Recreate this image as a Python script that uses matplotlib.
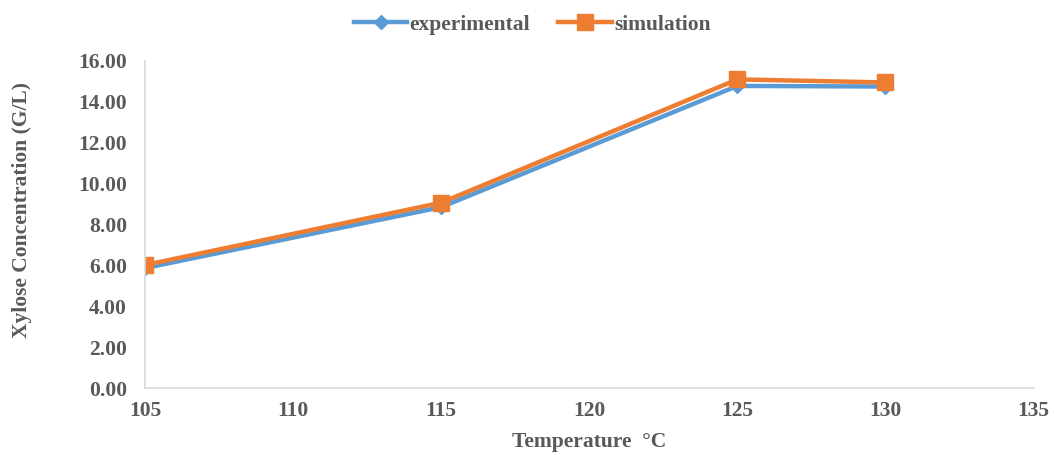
import matplotlib.pyplot as plt

temps = [105, 115, 125, 130]
experimental = [5.87, 8.85, 14.78, 14.75]
simulation = [6.02, 9.07, 15.10, 14.95]

xticks = [105, 110, 115, 120, 125, 130, 135]
yticks = [0, 2, 4, 6, 8, 10, 12, 14, 16]

plt.rcParams['font.family'] = ['Liberation Serif', 'DejaVu Serif']
plt.rcParams['font.weight'] = 'bold'
grey = '#595959'
fs = 15.5

fig = plt.figure(figsize=(10.54, 4.55), dpi=100)
ax = fig.add_axes([0.1376, 0.147, 0.843, 0.719])

ax.plot(temps, experimental, color='#5b9bd5', lw=3.2, marker='D', ms=7,
        label='experimental', solid_joinstyle='miter')
ax.plot(temps, simulation, color='#ed7d31', lw=3.2, marker='s', ms=11,
        label='simulation', solid_joinstyle='miter')

ax.set_xlim(105, 135)
ax.set_ylim(0, 16)
ax.set_xticks(xticks)
ax.set_yticks(yticks)
ax.set_yticklabels(['{:.2f}'.format(v) for v in yticks])
ax.tick_params(axis='y', length=0, labelsize=fs, colors=grey, pad=13)
ax.tick_params(axis='x', length=0, labelsize=fs, colors=grey, pad=9)
for lab in ax.get_xticklabels() + ax.get_yticklabels():
    lab.set_fontweight('bold')

for side in ['top', 'right']:
    ax.spines[side].set_visible(False)
for side in ['left', 'bottom']:
    ax.spines[side].set_color('#d9d9d9')
    ax.spines[side].set_linewidth(1.2)

ax.set_xlabel('Temperature  \u00b0C', fontsize=fs, color=grey, fontweight='bold', labelpad=8)
ax.set_ylabel('Xylose Concentration (G/L)', fontsize=fs, color=grey, fontweight='bold')
ax.yaxis.set_label_coords(-0.127, 0.544)

leg = fig.legend(loc='upper center', bbox_to_anchor=(0.505, 1.01), ncol=2, frameon=False,
                 fontsize=fs, handlelength=2.5, columnspacing=1.3, handletextpad=0.1)
for t in leg.get_texts():
    t.set_color(grey)

fig.savefig('out.png', dpi=100)
